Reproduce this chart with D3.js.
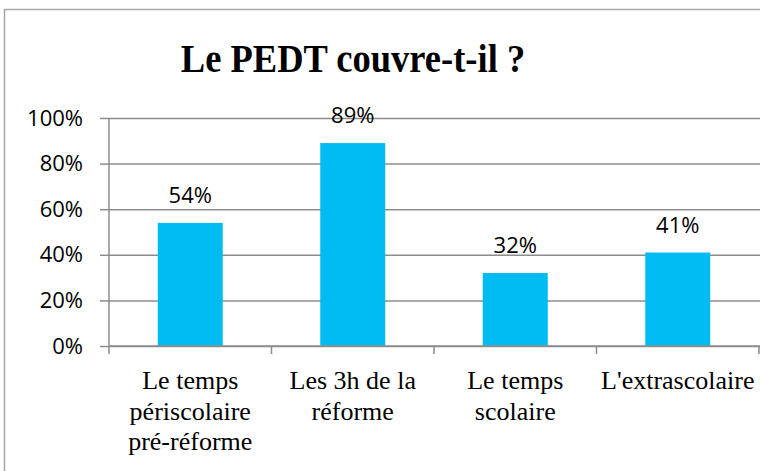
<!DOCTYPE html>
<html>
<head>
<meta charset="utf-8">
<script src="https://cdn.jsdelivr.net/npm/d3@7"></script>
<style>
body{margin:0;background:#fff;}
</style>
</head>
<body>
<div id="chart"></div>
<script>
const width = 760;
const height = 471;
const margin = {top:118,right:1,bottom:125,left:109};

// data
const categories = [
  ["Le temps","périscolaire","pré-réforme"],
  ["Les 3h de la","réforme"],
  ["Le temps","scolaire"],
  ["L'extrascolaire"]
];
const values = [0.54,0.89,0.32,0.41];
const yTicks = [0,0.2,0.4,0.6,0.8,1];
const title = "Le PEDT couvre-t-il ?";

const svg = d3.select("#chart")
.append("svg")
.attr("width",width)
.attr("height",height);

// outer frame (cropped on right and bottom)
svg.append("path")
.attr("d","M4.5,471 V9.5 H760")
.attr("fill","none")
.attr("stroke","#a6a6a6")
.attr("stroke-width",1.5);

const x = d3.scaleBand()
.domain(d3.range(values.length))
.range([margin.left,width-margin.right])
.paddingInner(0.6)
.paddingOuter(0.3);

const xTick = d3.scaleBand()
.domain(d3.range(values.length))
.range([margin.left,width-margin.right]);

const y = d3.scaleLinear()
.domain([0,1])
.range([height-margin.bottom,margin.top]);

// GRID
svg.append("g")
.attr("transform",`translate(${margin.left},0)`)
.call(
d3.axisLeft(y)
.tickValues(yTicks)
.tickSize(-(width-margin.left))
.tickFormat("")
)
.call(g=>g.select(".domain").remove())
.selectAll("line")
.attr("stroke","#8c8c8c")
.attr("stroke-width",1.5);

// Y AXIS
const yAxis = svg.append("g")
.attr("transform",`translate(${margin.left},0)`)
.call(d3.axisLeft(y).tickValues(yTicks).tickSize(9).tickPadding(17).tickFormat(d3.format(".0%")));
yAxis.select(".domain").attr("stroke","#8c8c8c").attr("stroke-width",1.5).attr("d",`M0,${y(1)}V${y(0)}`);
yAxis.selectAll("line").attr("stroke","#8c8c8c").attr("stroke-width",1.5);
yAxis.selectAll("text")
.attr("font-family","'Open Sans', sans-serif")
.attr("font-size",22)
.attr("fill","#000");

// BARS
svg.selectAll("rect.bar")
.data(values)
.enter()
.append("rect")
.attr("class","bar")
.attr("x",(d,i)=>x(i))
.attr("y",d=>y(d))
.attr("width",x.bandwidth())
.attr("height",d=>y(0)-y(d))
.attr("fill","#00bcf2");

// DATA LABELS
svg.selectAll("text.val")
.data(values)
.enter()
.append("text")
.attr("class","val")
.attr("x",(d,i)=>x(i)+x.bandwidth()/2)
.attr("y",d=>y(d)-20)
.attr("text-anchor","middle")
.attr("font-family","'Open Sans', sans-serif")
.attr("font-size",22)
.text(d=>d3.format(".0%")(d));

// X AXIS
const xAxis = svg.append("g")
.attr("transform",`translate(0,${y(0)})`);
xAxis.append("line")
.attr("x1",margin.left).attr("x2",width)
.attr("stroke","#8c8c8c").attr("stroke-width",1.5);
xAxis.selectAll("line.tick")
.data(d3.range(values.length+1))
.enter()
.append("line")
.attr("class","tick")
.attr("x1",i=>i<values.length?xTick(i):xTick(i-1)+xTick.bandwidth())
.attr("x2",i=>i<values.length?xTick(i):xTick(i-1)+xTick.bandwidth())
.attr("y1",0).attr("y2",8)
.attr("stroke","#8c8c8c").attr("stroke-width",1.5);

// X LABELS
xAxis.selectAll("text.cat")
.data(categories)
.enter()
.append("text")
.attr("class","cat")
.attr("text-anchor","middle")
.attr("font-family","'Liberation Serif', 'Times New Roman', serif")
.attr("font-size",26)
.each(function(lines,i){
  d3.select(this).selectAll("tspan")
  .data(lines)
  .enter()
  .append("tspan")
  .attr("x",xTick(i)+xTick.bandwidth()/2)
  .attr("y",(d,j)=>43+j*30.5)
  .text(d=>d);
});

// TITLE
svg.append("text")
.attr("transform","translate(353,72) scale(1,1.1)")
.attr("text-anchor","middle")
.attr("font-family","'Liberation Serif', 'Times New Roman', serif")
.attr("font-weight","bold")
.attr("font-size",36.5)
.text(title);
</script>
</body>
</html>
